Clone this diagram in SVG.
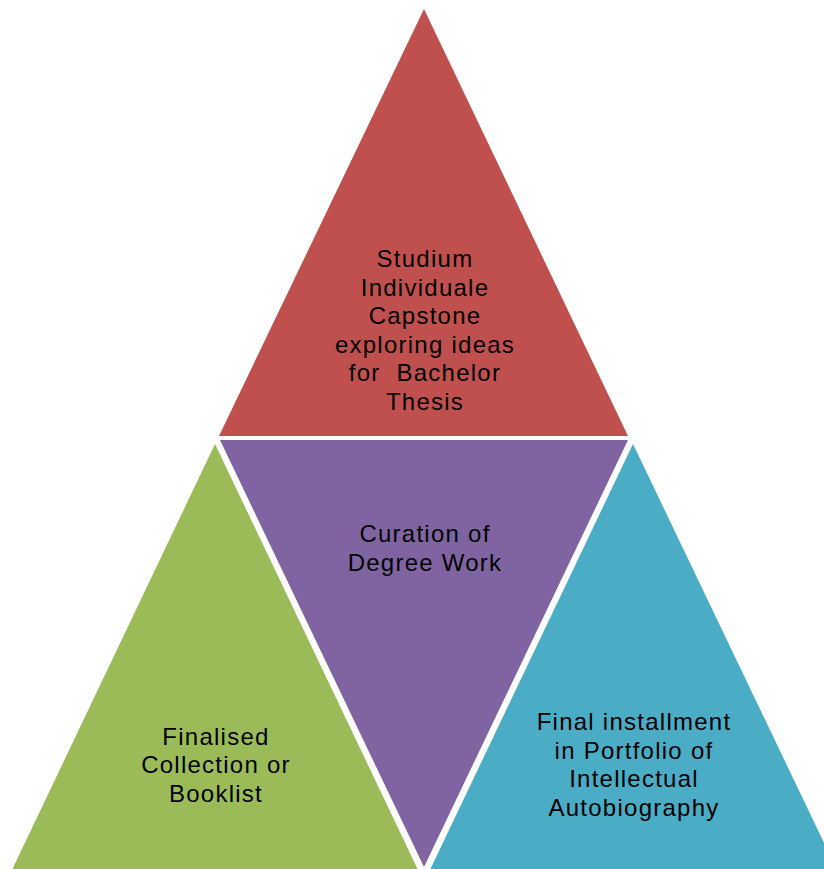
<svg xmlns="http://www.w3.org/2000/svg" width="824" height="869" viewBox="0 0 824 869">
  <style>
    .lbl { font-family: "Liberation Sans", Arial, Helvetica, sans-serif; font-size: 24px; letter-spacing: 1.25px; fill: #000; text-anchor: middle; white-space: pre; }
  </style>
  <rect width="824" height="869" fill="#ffffff"/>
  <g id="top">
    <polygon points="424,9 628,436 219,436" fill="#C0504D"/>
    <text class="lbl" x="425" y="267">Studium</text>
    <text class="lbl" x="425" y="296">Individuale</text>
    <text class="lbl" x="425" y="324">Capstone</text>
    <text class="lbl" x="425" y="353">exploring ideas</text>
    <text class="lbl" x="425" y="381" xml:space="preserve">for  Bachelor</text>
    <text class="lbl" x="425" y="410">Thesis</text>
  </g>
  <g id="center">
    <polygon points="220,440 628,440 424,867" fill="#8064A2"/>
    <text class="lbl" x="425" y="542">Curation of</text>
    <text class="lbl" x="425" y="571">Degree Work</text>
  </g>
  <g id="left">
    <polygon points="215,444 419,872 11,872" fill="#9BBB59"/>
    <text class="lbl" x="216" y="745">Finalised</text>
    <text class="lbl" x="216" y="773">Collection or</text>
    <text class="lbl" x="216" y="802">Booklist</text>
  </g>
  <g id="right">
    <polygon points="633,444 838,872 429,872" fill="#4BACC6"/>
    <text class="lbl" x="634" y="730">Final installment</text>
    <text class="lbl" x="634" y="759">in Portfolio of</text>
    <text class="lbl" x="634" y="787">Intellectual</text>
    <text class="lbl" x="634" y="816">Autobiography</text>
  </g>
  <g id="connectors"/>
</svg>
